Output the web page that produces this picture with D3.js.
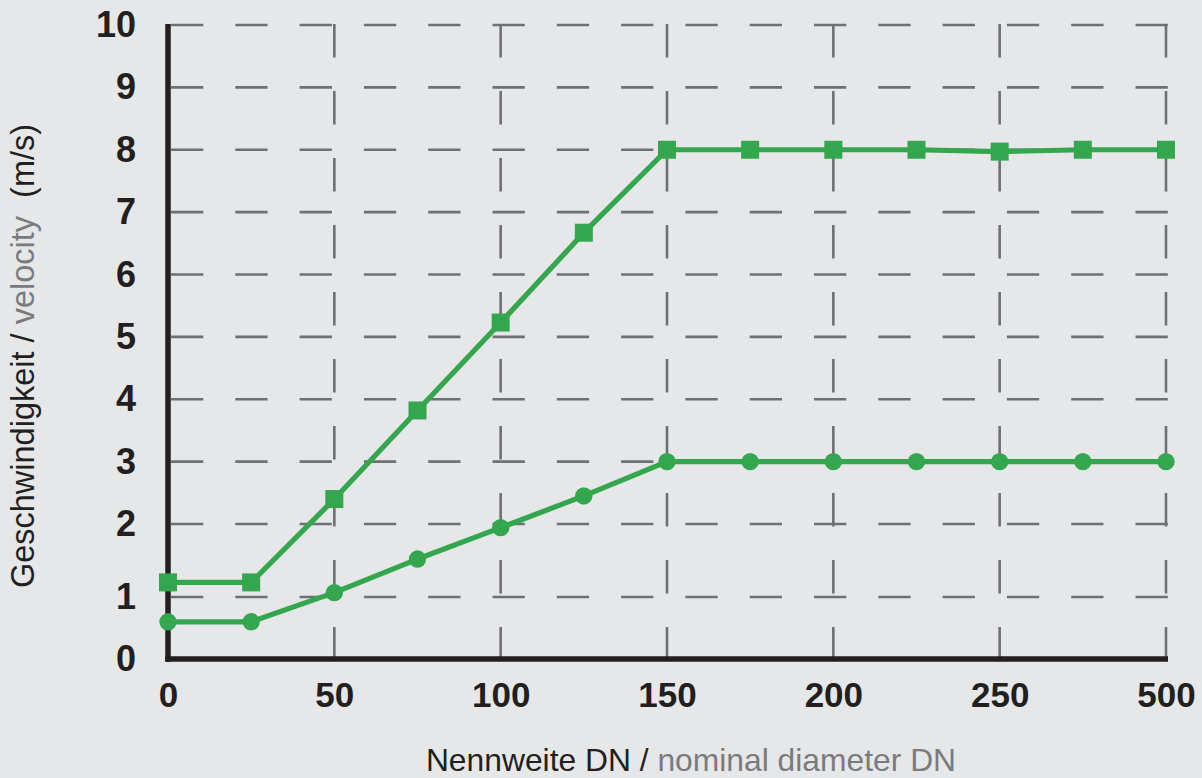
<!DOCTYPE html>
<html>
<head>
<meta charset="utf-8">
<script src="https://cdn.jsdelivr.net/npm/d3@7"></script>
<style>
  html, body { margin: 0; padding: 0; background: #e6e7e8; }
  svg { display: block; }
  text { font-family: "Liberation Sans", Arial, Helvetica, sans-serif; }
</style>
</head>
<body>
<svg id="chart" width="1202" height="778"></svg>
<script>
// ---- data ----
const categories = ["0", "25", "50", "75", "100", "125", "150", "175", "200", "225", "250", "275", "500"];
const xTickLabels = ["0", "50", "100", "150", "200", "250", "500"];
const yTicks = [0, 1, 2, 3, 4, 5, 6, 7, 8, 9, 10];
const seriesSquare = [1.2, 1.2, 2.4, 3.82, 5.23, 6.67, 8.0, 8.0, 8.0, 8.0, 7.97, 8.0, 8.0];
const seriesCircle = [0.6, 0.6, 1.06, 1.52, 1.95, 2.45, 3.0, 3.0, 3.0, 3.0, 3.0, 3.0, 3.0];

(function () {
// ---- layout ----
const W = 1202, H = 778;
const pLeft = 168, pRight = 1166, pTop = 25, pBottom = 659;
const green = "#34a64e";
const dark = "#231f20";
const greyText = "#7a7b7d";
const gridColor = "#6f7072";

const svg = d3.select("#chart");
svg.append("rect").attr("width", W).attr("height", H).attr("fill", "#e6e7e8");

const x = d3.scalePoint().domain(categories).range([pLeft, pRight]);
// the printed chart has an uneven gap between 1 and 2
const y = d3.scaleLinear().domain([0, 1, 2, 10]).range([pBottom, pBottom - 62, pBottom - 135, pTop]);

// horizontal dashed grid
svg.append("g").selectAll("line")
  .data(yTicks.filter(d => d > 0))
  .join("line")
  .attr("x1", pLeft + 3).attr("x2", pRight + 2)
  .attr("y1", d => y(d)).attr("y2", d => y(d))
  .attr("stroke", gridColor).attr("stroke-width", 2.6)
  .attr("stroke-dasharray", "32.3,32");

// vertical dashed grid (at labelled categories)
svg.append("g").selectAll("line")
  .data(xTickLabels.filter(d => d !== "0"))
  .join("line")
  .attr("x1", d => x(d)).attr("x2", d => x(d))
  .attr("y1", pTop - 1).attr("y2", pBottom)
  .attr("stroke", gridColor).attr("stroke-width", 2.6)
  .attr("stroke-dasharray", "33.5,33.5");

// axes lines
svg.append("line")
  .attr("x1", pLeft).attr("x2", pLeft)
  .attr("y1", pTop - 1).attr("y2", pBottom + 2.75)
  .attr("stroke", dark).attr("stroke-width", 5.5);
svg.append("line")
  .attr("x1", pLeft - 2.75).attr("x2", pRight + 2)
  .attr("y1", pBottom).attr("y2", pBottom)
  .attr("stroke", dark).attr("stroke-width", 5.5);

// y axis labels
const yAxis = svg.append("g")
  .attr("transform", `translate(${pLeft},0)`)
  .call(d3.axisLeft(y).tickValues(yTicks).tickFormat(d3.format("d")).tickSize(0).tickPadding(32));
yAxis.select(".domain").remove();
yAxis.selectAll("text")
  .attr("font-family", "'Liberation Sans', Arial, Helvetica, sans-serif")
  .attr("font-size", 36).attr("font-weight", "bold").attr("fill", dark);

// x axis labels
const xAxis = svg.append("g")
  .attr("transform", `translate(0,${pBottom})`)
  .call(d3.axisBottom(x).tickValues(xTickLabels).tickSize(0).tickPadding(23));
xAxis.select(".domain").remove();
xAxis.selectAll("text")
  .attr("font-family", "'Liberation Sans', Arial, Helvetica, sans-serif")
  .attr("font-size", 35).attr("font-weight", "bold").attr("fill", dark);

// lines
const line = d3.line().x((d, i) => x(categories[i])).y(d => y(d));
svg.append("path").datum(seriesSquare).attr("d", line)
  .attr("fill", "none").attr("stroke", green).attr("stroke-width", 5.2).attr("stroke-linejoin", "round");
svg.append("path").datum(seriesCircle).attr("d", line)
  .attr("fill", "none").attr("stroke", green).attr("stroke-width", 5.2).attr("stroke-linejoin", "round");

// markers
const sq = 18;
svg.append("g").selectAll("rect")
  .data(seriesSquare)
  .join("rect")
  .attr("x", (d, i) => x(categories[i]) - sq / 2)
  .attr("y", d => y(d) - sq / 2)
  .attr("width", sq).attr("height", sq)
  .attr("fill", green);
svg.append("g").selectAll("circle")
  .data(seriesCircle)
  .join("circle")
  .attr("cx", (d, i) => x(categories[i]))
  .attr("cy", d => y(d))
  .attr("r", 8.7)
  .attr("fill", green);

// x axis title
const xt = svg.append("text")
  .attr("x", 691).attr("y", 771)
  .attr("text-anchor", "middle")
  .attr("font-size", 31.8)
  .attr("xml:space", "preserve");
xt.append("tspan").attr("fill", dark).text("Nennweite DN / ");
xt.append("tspan").attr("fill", greyText).text("nominal diameter DN");

// y axis title
const yt = svg.append("text")
  .attr("transform", "translate(34,356) rotate(-90)")
  .attr("text-anchor", "middle")
  .attr("font-size", 32.5)
  .attr("xml:space", "preserve");
yt.append("tspan").attr("fill", dark).text("Geschwindigkeit / ");
yt.append("tspan").attr("fill", greyText).text("velocity");
yt.append("tspan").attr("fill", dark).text("  (m/s)");
})();
</script>
</body>
</html>
